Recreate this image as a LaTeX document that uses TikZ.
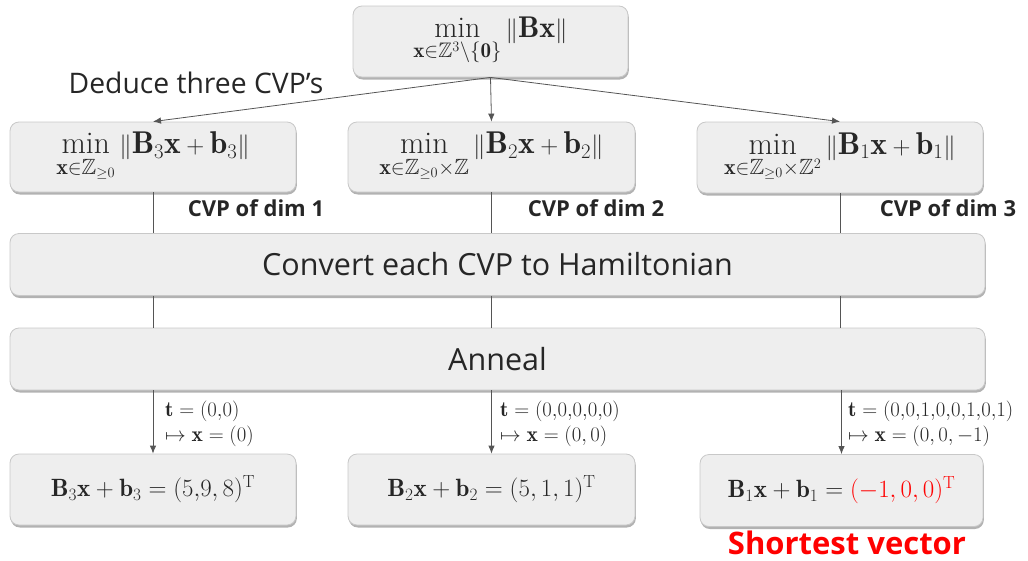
\documentclass[tikz,border=0pt]{standalone}
\usepackage{amsmath,amssymb}
\usepackage{fontspec}
\newfontfamily\sansf{Open Sans}
\usetikzlibrary{shadows,arrows.meta}
\definecolor{boxfill}{RGB}{238,238,238}
\definecolor{boxline}{RGB}{200,200,200}
\definecolor{txt}{RGB}{38,38,38}
\definecolor{lin}{RGB}{85,85,85}
\definecolor{redtxt}{RGB}{255,0,0}
\begin{document}
\begin{tikzpicture}[x=1pt,y=-1pt,
  box/.style={draw=boxline, fill=boxfill, rounded corners=9pt, line width=0.8pt,
    inner sep=0pt, text=txt,
    drop shadow={shadow xshift=0.8pt, shadow yshift=-2.5pt, fill=black, opacity=0.3}},
  topbox/.style={box, font=\fontsize{30}{34}\selectfont},
  mathbox/.style={box, font=\fontsize{31.5}{36}\selectfont},
  resbox/.style={box, font=\fontsize{25}{30}\selectfont},
  wide/.style={box, minimum width=975pt, minimum height=62pt, font=\sansf\fontsize{30.5}{34}\selectfont},
  conn/.style={draw=lin, line width=0.8pt},
  arr/.style={conn, -{Latex[length=8pt,width=6.5pt]}},
  cvplab/.style={font=\sansf\bfseries\fontsize{22}{25}\selectfont, text=txt},
  maplab/.style={font=\fontsize{21.5}{25}\selectfont, text=txt, anchor=base west, inner sep=0pt}
]
\useasboundingbox (0,0) rectangle (1028,560);

% top
\node[topbox, minimum width=275pt, minimum height=71pt] (top) at (490.5,41.5)
  {$\displaystyle\min_{\mathbf{x}\in\mathbb{Z}^3\setminus\{\mathbf{0}\}}\|\mathbf{B}\mathbf{x}\|$};

% level 2
\node[mathbox, minimum width=286pt, minimum height=70pt] (c1) at (153,157)
  {$\displaystyle\min_{\mathbf{x}\in\mathbb{Z}_{\geq0}}\|\mathbf{B}_3\mathbf{x}+\mathbf{b}_3\|$};
\node[mathbox, minimum width=287pt, minimum height=70pt] (c2) at (491.5,157)
  {$\displaystyle\min_{\mathbf{x}\in\mathbb{Z}_{\geq0}\times\mathbb{Z}}\|\mathbf{B}_2\mathbf{x}+\mathbf{b}_2\|$};
\node[mathbox, minimum width=286pt, minimum height=71pt] (c3) at (840,157.5)
  {$\displaystyle\min_{\mathbf{x}\in\mathbb{Z}_{\geq0}\times\mathbb{Z}^2}\|\mathbf{B}_1\mathbf{x}+\mathbf{b}_1\|$};

\node[font=\sansf\fontsize{28.3}{32}\selectfont, text=txt] (ded) at (196,83) {Deduce three CVP’s};

\draw[arr] (top.south) -- (c1.north);
\draw[arr] (top.south) -- (c2.north);
\draw[arr] (top.south) -- (c3.north);

% wide boxes
\node[wide] (conv) at (497.5,264.5) {Convert each CVP to Hamiltonian};
\node[wide] (ann) at (497.5,359) {Anneal};

\node[cvplab] (l1) at (256,208) {CVP of dim 1};
\node[cvplab] (l2) at (596,208) {CVP of dim 2};
\node[cvplab] (l3) at (948,208) {CVP of dim 3};

% bottom boxes
\node[resbox, minimum width=286pt, minimum height=71pt] (r1) at (153,489.5)
  {$\mathbf{B}_3\mathbf{x}+\mathbf{b}_3=(5{,}9,8)^{\mathrm{T}}$};
\node[resbox, minimum width=287pt, minimum height=71pt] (r2) at (491.5,489.5)
  {$\mathbf{B}_2\mathbf{x}+\mathbf{b}_2=(5,1,1)^{\mathrm{T}}$};
\node[resbox, minimum width=283pt, minimum height=72pt] (r3) at (841.5,490.5)
  {$\mathbf{B}_1\mathbf{x}+\mathbf{b}_1=\textcolor{redtxt}{(-1,0,0)^{\mathrm{T}}}$};

% vertical connectors
\foreach \c/\r in {c1/r1,c2/r2,c3/r3}{
  \draw[conn] (\c.south) -- (\c.south |- conv.north);
  \draw[conn] (\c.south |- conv.south) -- (\c.south |- ann.north);
  \draw[arr] (\r.north |- ann.south) -- (\r.north);
}

% mapping labels
\node[maplab] (m1a) at (165,416) {$\mathbf{t}=(0{,}0)$};
\node[maplab] (m1b) at (165,441) {$\mapsto\mathbf{x}=(0)$};
\node[maplab] (m2a) at (500,416) {$\mathbf{t}=(0{,}0{,}0{,}0{,}0)$};
\node[maplab] (m2b) at (500,441) {$\mapsto\mathbf{x}=(0,0)$};
\node[maplab] (m3a) at (848,416) {$\mathbf{t}=(0{,}0{,}1{,}0{,}0{,}1{,}0{,}1)$};
\node[maplab] (m3b) at (848,441) {$\mapsto\mathbf{x}=(0,0,-1)$};

\node[font=\sansf\bfseries\fontsize{31}{35}\selectfont, text=redtxt, inner sep=0pt, anchor=base] (sv) at (847,554) {Shortest vector};
\end{tikzpicture}
\end{document}
